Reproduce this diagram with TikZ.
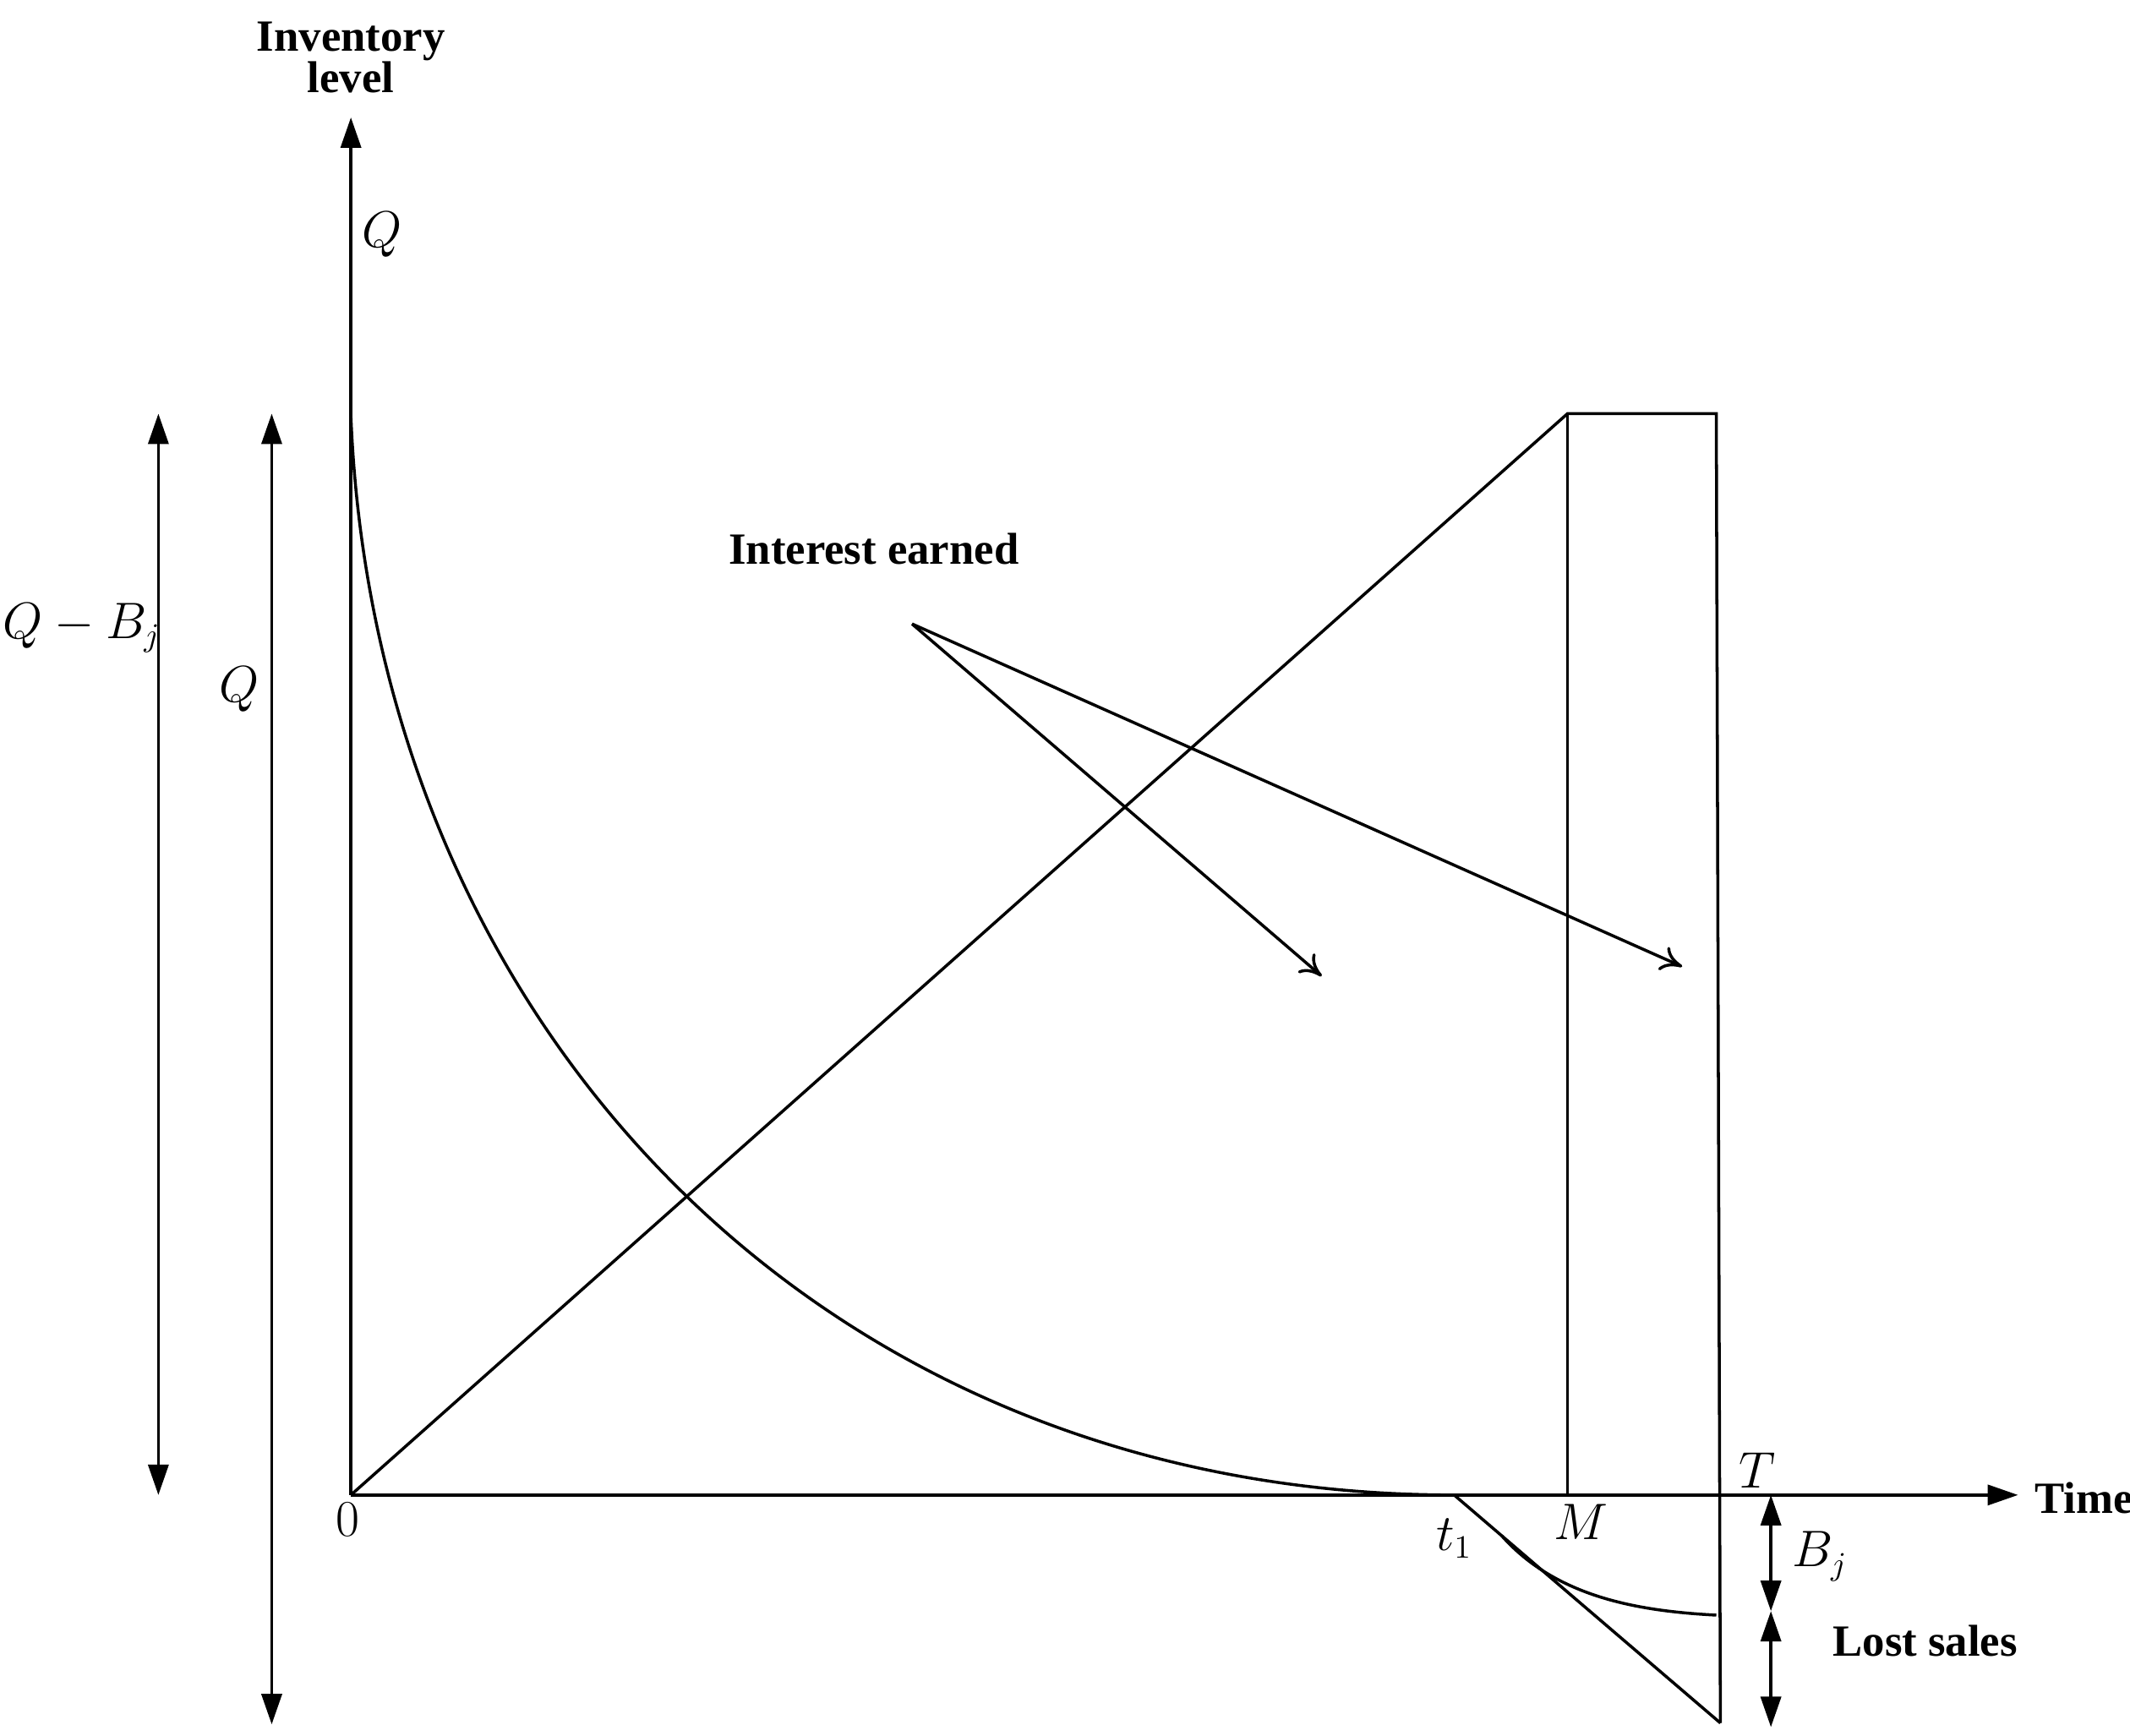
\documentclass[tikz,border=0pt]{standalone}
\usepackage{fontspec}
\setmainfont{Liberation Serif}
\usetikzlibrary{arrows.meta}
\begin{document}
\begin{tikzpicture}[x=0.01615cm,y=-0.01615cm,line width=1pt,
  big/.style={-{Triangle[width=0.24cm,length=0.36cm]}},
  bigboth/.style={{Triangle[width=0.24cm,length=0.36cm]}-{Triangle[width=0.24cm,length=0.36cm]}},
  lbl/.style={font=\fontsize{15}{17}\selectfont\bfseries,align=center},
  mth/.style={font=\fontsize{16}{18}\selectfont}]
\useasboundingbox (0,0) rectangle (1560,1271);
\coordinate (O) at (257,1095);
\coordinate (Ytop) at (257,86);
\coordinate (Xend) at (1478,1095);
\draw[big] (O) -- (Ytop);
\draw[big] (O) -- (Xend);
\node[lbl] (inv) at (257,42) {Inventory\\[-3pt]level};
\node[lbl,anchor=west] (time) at (1482,1097) {Time};
\node[mth] (q0) at (280,172) {$Q$};
\node[mth] (zero) at (255,1113) {$0$};
\node[mth] (t1) at (1065,1127) {$t_1$};
\node[mth] (m) at (1158,1115) {$M$};
\node[mth] (tt) at (1287,1077) {$T$};
\coordinate (c0) at (257,305);
\coordinate (t1p) at (1065,1095);
\draw (c0) .. controls (275,750) and (600,1095) .. (t1p);
\coordinate (A) at (1148,303);
\coordinate (B) at (1257,303);
\coordinate (MB) at (1148,1095);
\coordinate (Bot) at (1260,1262);
\draw (O) -- (A) -- (B) -- (Bot);
\draw (A) -- (MB);
\draw (t1p) -- (Bot);
\draw (1100,1125) .. controls (1140,1170) and (1200,1180) .. (1257,1183);
\draw[bigboth] (1297,1095) -- (1297,1180);
\draw[bigboth] (1297,1180) -- (1297,1265);
\node[mth] (bj) at (1333,1140) {$B_j$};
\node[lbl] (lost) at (1410,1202) {Lost sales};
\draw[bigboth] (116,303) -- (116,1095);
\draw[bigboth] (199,303) -- (199,1263);
\node[mth] (qb) at (60,460) {$Q-B_j$};
\node[mth] (q1) at (175,505) {$Q$};
\node[lbl] (ie) at (640,402) {Interest earned};
\coordinate (s) at (668,457);
\draw[-{To[length=0.25cm,width=0.3cm]}] (s) -- (968,715);
\draw[-{To[length=0.25cm,width=0.3cm]}] (s) -- (1232,708);
\end{tikzpicture}
\end{document}
